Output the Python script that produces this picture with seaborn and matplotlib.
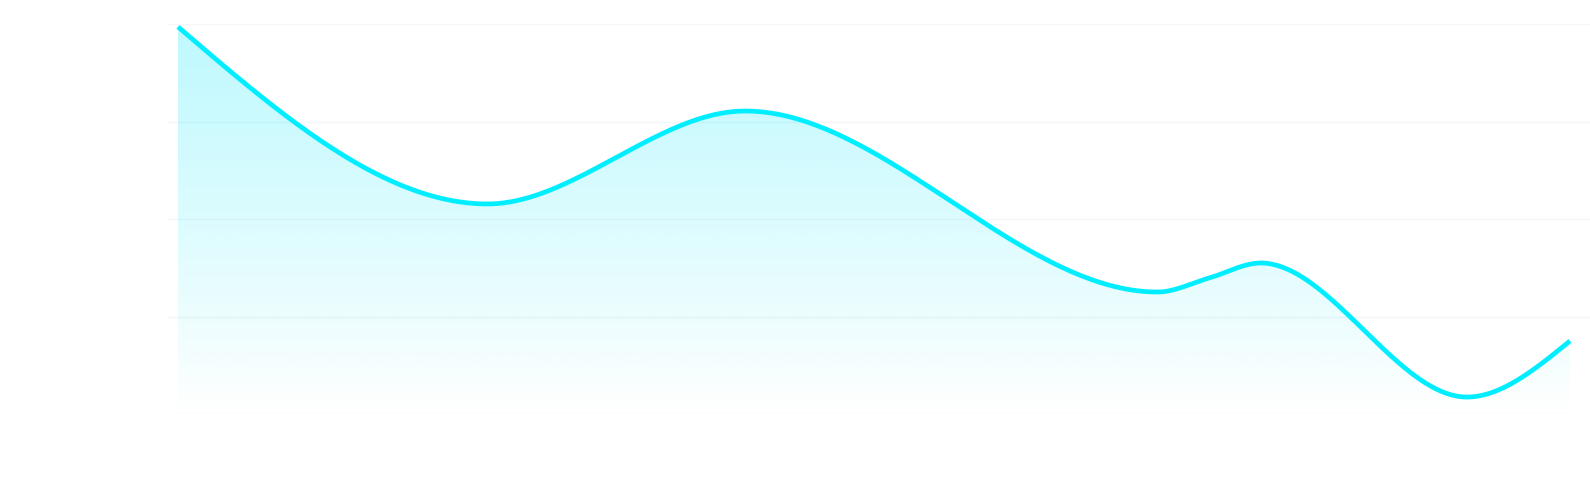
import numpy as np
import pandas as pd
import matplotlib
matplotlib.use("Agg")
import matplotlib.pyplot as plt
import seaborn as sns

# ---- data ----
x_points = [0, 6, 11, 19, 20, 21, 25, 27]
y_values = [198.7, 107.8, 155.5, 62.6, 69.8, 77.5, 8.7, 37.5]
x_span = 27
y_ticks = [0, 50, 100, 150, 200]

LINE_COLOR = "#00EEFF"
FILL_COLOR = (0 / 255, 232 / 255, 252 / 255)


def monotone_x(x, y, n=80):
    """Monotone cubic curve (same rule as d3.curveMonotoneX)."""
    x = np.asarray(x, float)
    y = np.asarray(y, float)
    N = len(x)
    h = np.diff(x)
    s = np.diff(y) / h
    t = np.zeros(N)
    for i in range(1, N - 1):
        h0, h1, s0, s1 = h[i - 1], h[i], s[i - 1], s[i]
        p = (s0 * h1 + s1 * h0) / (h0 + h1)
        t[i] = (np.sign(s0) + np.sign(s1)) * min(abs(s0), abs(s1), 0.5 * abs(p))
    t[0] = (3 * s[0] - t[1]) / 2
    t[-1] = (3 * s[-1] - t[-2]) / 2
    xs, ys = [], []
    for i in range(N - 1):
        u = np.linspace(0, 1, n, endpoint=(i == N - 2))
        h00 = 2 * u ** 3 - 3 * u ** 2 + 1
        h10 = u ** 3 - 2 * u ** 2 + u
        h01 = -2 * u ** 3 + 3 * u ** 2
        h11 = u ** 3 - u ** 2
        xs.append(x[i] + u * h[i])
        ys.append(h00 * y[i] + h10 * h[i] * t[i] + h01 * y[i + 1] + h11 * h[i] * t[i + 1])
    return np.concatenate(xs), np.concatenate(ys)


xs, ys = monotone_x(x_points, y_values)
df = pd.DataFrame({"x": xs, "y": ys})

sns.set_theme(style="white")
fig = plt.figure(figsize=(15.9, 4.84), dpi=100)
ax = fig.add_axes([168 / 1590, (484 - 414) / 484, 1 - 168 / 1590, (414 - 24.3) / 484])

px_per_unit = (1570 - 178) / x_span
xlim = (-(178 - 168) / px_per_unit, x_span + (1590 - 1570) / px_per_unit)

# faint horizontal grid
for tk in y_ticks:
    ax.axhline(tk, color="#F4F6FA", lw=1.0, zorder=0)

# vertical gradient fill under the curve (top of area -> baseline)
poly = ax.fill_between(df["x"], df["y"], 0, color="none", lw=0)
H = 400
gy = np.linspace(1, 0, H)[:, None]
rgba = np.zeros((H, 2, 4))
rgba[..., 0] = FILL_COLOR[0]
rgba[..., 1] = FILL_COLOR[1]
rgba[..., 2] = FILL_COLOR[2]
rgba[..., 3] = 0.26 * gy ** 0.9
top = max(y_values)
im = ax.imshow(rgba, extent=[x_points[0], x_points[-1], 0, top], aspect="auto",
               zorder=1, interpolation="bilinear")
im.set_clip_path(poly.get_paths()[0], transform=ax.transData)

sns.lineplot(data=df, x="x", y="y", ax=ax, color=LINE_COLOR, lw=3.4,
             sort=False, estimator=None, zorder=3)
for l in ax.lines:
    l.set_solid_capstyle("butt")

ax.set_xlim(xlim)
ax.set_ylim(0, 200)
ax.set_xlabel("")
ax.set_ylabel("")
ax.set_xticks([])
ax.set_yticks([])
for sp in ax.spines.values():
    sp.set_visible(False)
ax.patch.set_alpha(0)

fig.savefig("out.png", dpi=100, facecolor="white")
